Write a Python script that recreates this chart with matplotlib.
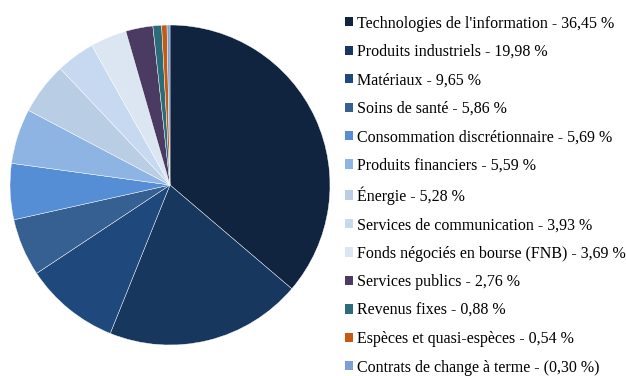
import matplotlib.pyplot as plt
from matplotlib.patches import Patch

plt.rcParams['font.family'] = ['Liberation Serif', 'DejaVu Serif']

secteurs = ["Technologies de l'information", "Produits industriels", "Matériaux",
            "Soins de santé", "Consommation discrétionnaire", "Produits financiers",
            "Énergie", "Services de communication", "Fonds négociés en bourse (FNB)",
            "Services publics", "Revenus fixes", "Espèces et quasi-espèces",
            "Contrats de change à terme"]
poids = [36.45, 19.98, 9.65, 5.86, 5.69, 5.59, 5.28, 3.93, 3.69, 2.76, 0.88, 0.54, -0.30]
couleurs = ['#10233f', '#17375e', '#1f497d', '#376092', '#558ed5', '#8eb4e3',
            '#b9cde5', '#c6d9f1', '#dce6f2', '#4b3a62', '#2a6c7a', '#c55a11', '#7ba0d4']

def etiquette(nom, v):
    s = f"{abs(v):.2f}".replace('.', ',')
    return f"{nom} - ({s} %)" if v < 0 else f"{nom} - {s} %"

fig = plt.figure(figsize=(6.26, 3.76), dpi=100)
ax = fig.add_axes([10/626, 31/376, 320/626, 320/376])
ax.pie([abs(v) for v in poids], colors=couleurs, startangle=90, counterclock=False,
       radius=1, wedgeprops=dict(edgecolor='white', linewidth=0.3))
ax.set_xlim(-1, 1)
ax.set_ylim(-1, 1)
ax.set_aspect('equal')

handles = [Patch(facecolor=c, edgecolor='none') for c in couleurs]
labels = [etiquette(n, v) for n, v in zip(secteurs, poids)]
fig.legend(handles, labels, loc='upper left', bbox_to_anchor=(345/626, 1 - 15.5/376),
           frameon=False, fontsize=11.5, handlelength=0.52, handleheight=0.52,
           handletextpad=0.25, labelspacing=0.78, borderpad=0, borderaxespad=0)

fig.savefig('out.png', dpi=100)
